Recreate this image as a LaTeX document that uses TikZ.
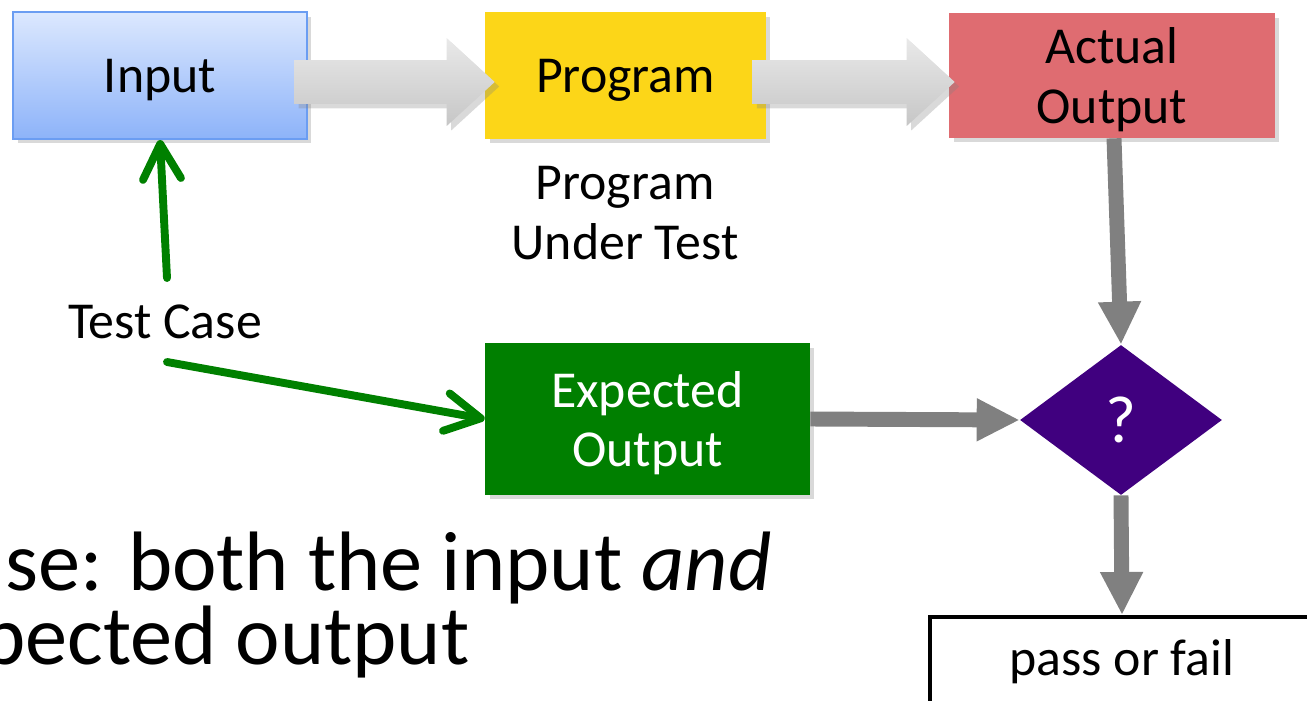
\documentclass[tikz,border=0pt]{standalone}
\usepackage{fontspec}
\setmainfont{Carlito}
\usetikzlibrary{arrows.meta,shapes.geometric,shadows,calc}
\definecolor{inpTop}{HTML}{DCE8FE}
\definecolor{inpBot}{HTML}{8DB3F9}
\definecolor{inpLine}{HTML}{6B9DF2}
\definecolor{progY}{HTML}{FCD618}
\definecolor{actR}{HTML}{DF6C71}
\definecolor{expG}{HTML}{007F00}
\definecolor{purp}{HTML}{40007F}
\definecolor{arrGray}{HTML}{808080}
\definecolor{blkTop}{HTML}{E9E9E9}
\definecolor{blkBot}{HTML}{C6C6C6}
\definecolor{grn}{HTML}{008000}
\newcommand\blockarrow[2]{%
  \path[blockarr] let \p1=(#1), \p2=(#2) in
    (\x1,\y1+0.44cm) -- (\x2-0.96cm,\y1+0.44cm) -- (\x2-0.96cm,\y1+0.88cm) --
    (\x2,\y1) -- (\x2-0.96cm,\y1-0.88cm) -- (\x2-0.96cm,\y1-0.44cm) --
    (\x1,\y1-0.44cm) -- cycle;}
\begin{document}
\begin{tikzpicture}[x=0.02cm,y=-0.02cm,
  lbl/.style={font=\fontsize{29.5}{34}\selectfont, align=center},
  shad/.style={drop shadow={shadow xshift=0.09cm, shadow yshift=-0.09cm, opacity=0.3}},
  box/.style={rectangle, inner sep=0pt, lbl, text depth=0pt, shad},
  blockarr/.style={top color=blkTop, bottom color=blkBot, shad},
  garrow/.style={draw=grn, line width=4.5pt, line cap=round,
    -{Straight Barb[length=0.7cm,width=0.76cm,round]}},
  gyarrow/.style={draw=arrGray, line width=8.5pt,
    -{Triangle[width=0.8cm,length=0.86cm]}},
  bigtxt/.style={font=\fontsize{48}{75}\selectfont, anchor=base east, inner sep=0pt}
]
\useasboundingbox (0,0) rectangle (1307,700);

% boxes
\node[box, top color=inpTop, bottom color=inpBot, draw=inpLine, line width=1.2pt,
      minimum width=5.88cm, minimum height=2.54cm] (inp) at (160,75.5) {Input};
\node[box, fill=progY, minimum width=5.62cm, minimum height=2.54cm] (prog) at (625.5,75.5) {Program};
\node[box, fill=actR, minimum width=6.52cm, minimum height=2.5cm] (act) at (1112,75.5) {Actual\\Output};
\node[box, fill=expG, text=white, minimum width=6.5cm, minimum height=3.04cm] (exp) at (647.5,419) {Expected\\Output};
\node[diamond, fill=purp, text=white, inner sep=0pt, font=\fontsize{38}{40}\selectfont,
      minimum width=4.04cm, minimum height=3cm] (q) at (1121,420) {?};
\node[rectangle, draw=black, fill=white, line width=2.3pt, lbl, shad,
      minimum width=7.68cm, minimum height=1.8cm] (pf) at (1122,662) {pass or fail};

% labels
\node[lbl] (put) at (625,213) {Program\\Under Test};
\node[lbl, inner sep=0pt] (tc) at (165,322) {Test Case};

% block arrows
\blockarrow{$(inp.east)+(-14,6.5)$}{$(prog.west)+(10,6.5)$}
\blockarrow{$(prog.east)+(-14,6.5)$}{$(act.west)+(6,6.5)$}

% green arrows
\coordinate (g1) at (167,278);
\coordinate (g2) at (167,362);
\draw[garrow] (g1) -- (inp.south);
\draw[garrow] (g2) -- (exp.west);

% gray arrows
\draw[gyarrow] ([xshift=0.04cm]act.south) -- (q.north);
\draw[gyarrow] (exp.east) -- (q.west);
\draw[gyarrow] (q.south) -- (pf.north);

% bottom text (cut by the page edge)
\node[bigtxt] (l1) at (772,590) {ase: both the input \textit{and}};
\node[bigtxt] (l2) at (470,664) {pected output};
\end{tikzpicture}
\end{document}
